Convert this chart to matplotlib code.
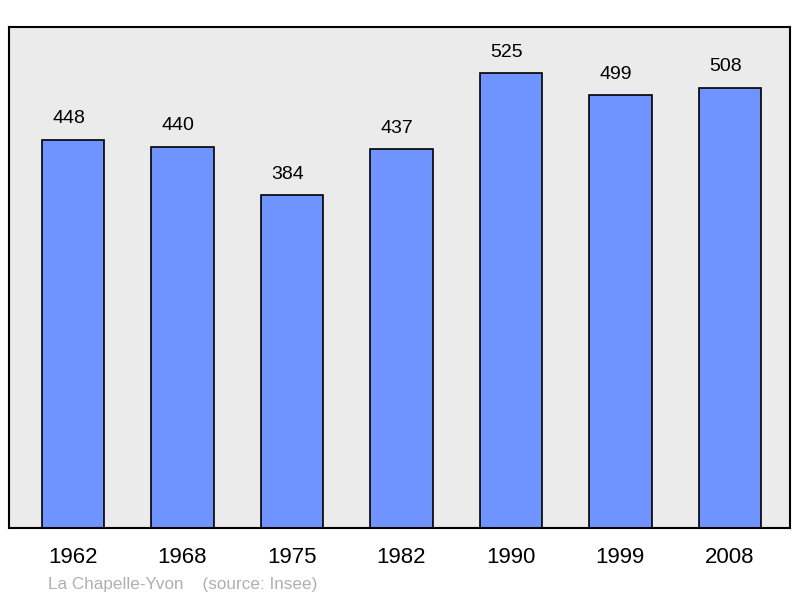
import matplotlib
matplotlib.use('Agg')
import matplotlib.pyplot as plt

# population data
years = ['1962', '1968', '1975', '1982', '1990', '1999', '2008']
population = [448, 440, 384, 437, 525, 499, 508]
commune = 'La Chapelle-Yvon'
source = '(source: Insee)'

fig = plt.figure(figsize=(8, 5.98), dpi=100)
ax = fig.add_axes([9 / 800, 1 - 528 / 598, 781 / 800, 501 / 598])
ax.set_facecolor('#ebebeb')

xs = range(len(years))
ax.bar(xs, population, width=0.57, color='#7094ff', edgecolor='black', linewidth=1.2, zorder=2)

for x, v in zip(xs, population):
    ax.annotate(str(v), (x, v), xytext=(-3, 15), textcoords='offset points',
                ha='center', va='center', fontsize=14, family='Liberation Sans')

ax.set_xlim(-0.584, 6.55)
ax.set_ylim(0, 578)
ax.set_xticks(list(xs))
ax.set_xticklabels(years, fontsize=16, family='Liberation Sans')
ax.tick_params(axis='x', length=0, pad=14)
ax.set_yticks([])
for s in ax.spines.values():
    s.set_linewidth(1.5)

fig.text(48 / 800, 1 - 585 / 598, commune + '    ' + source, color='#b0b0b0',
         fontsize=12.3, family='Liberation Sans', va='center', ha='left')

fig.savefig('out.png', dpi=100)
